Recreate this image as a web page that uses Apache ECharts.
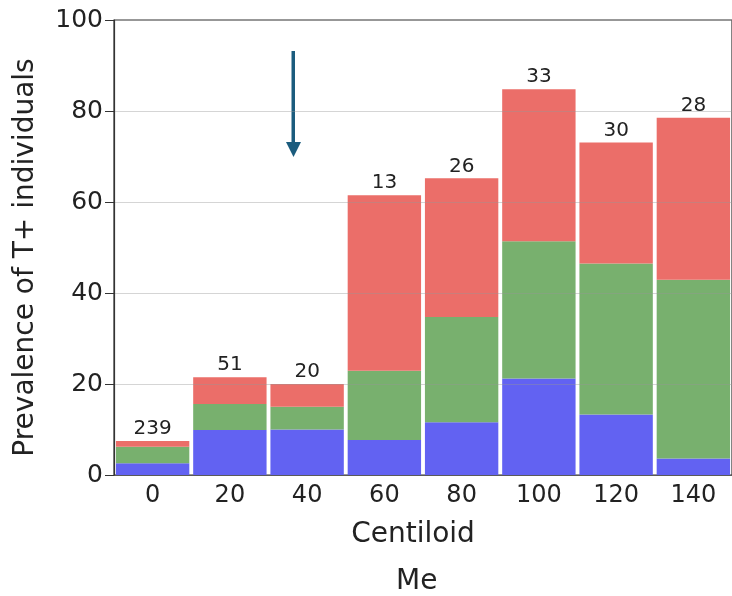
<!DOCTYPE html>
<html>
<head>
<meta charset="utf-8">
<script src="https://cdn.jsdelivr.net/npm/echarts@6/dist/echarts.min.js"></script>
<style>
  html, body { margin: 0; padding: 0; background: #fff; }
  #chart { width: 732px; height: 596px; }
</style>
</head>
<body>
<div id="chart"></div>
<script>
// centiloid bins
const categories = ['0', '20', '40', '60', '80', '100', '120', '140']
// stacked segment heights (%), bottom to top
const blueValues = [2.6, 9.9, 10.0, 7.7, 11.6, 21.2, 13.3, 3.6]
const greenValues = [3.6, 5.7, 5.0, 15.2, 23.1, 30.2, 33.2, 39.3]
const redValues = [1.3, 5.9, 5.0, 38.6, 30.5, 33.4, 26.6, 35.6]
// n per bin, printed above each bar
const counts = [239, 51, 20, 13, 26, 33, 30, 28]

const FONT = 'DejaVu Sans'
const chart = echarts.init(document.getElementById('chart'))

const option = {
  animation: false,
  backgroundColor: '#fff',
  textStyle: { fontFamily: FONT },
  title: {
    text: 'Me',
    left: 391,
    top: 563,
    textStyle: { fontFamily: FONT, fontSize: 28, fontWeight: 'normal', color: '#222' }
  },
  grid: {
    left: 114,
    right: -1,
    top: 20,
    bottom: 121,
    show: true,
    borderColor: '#333',
    borderWidth: 1.2,
    backgroundColor: 'transparent'
  },
  xAxis: {
    type: 'category',
    data: categories,
    name: 'Centiloid',
    nameLocation: 'middle',
    nameGap: 46,
    nameTextStyle: { fontFamily: FONT, fontSize: 28, color: '#222', padding: [0, 20, 0, 0] },
    axisLine: { lineStyle: { color: '#333', width: 1.2 } },
    axisTick: { alignWithLabel: true, length: 7, lineStyle: { color: '#333' } },
    axisLabel: { fontFamily: FONT, fontSize: 24, color: '#222', margin: 9 }
  },
  yAxis: {
    type: 'value',
    min: 0,
    max: 100,
    interval: 20,
    z: 5,
    name: 'Prevalence of T+ individuals',
    nameLocation: 'middle',
    nameGap: 74,
    nameTextStyle: { fontFamily: FONT, fontSize: 28, color: '#222', padding: [0, 20, 0, 0] },
    axisLine: { show: true, lineStyle: { color: '#333', width: 1.2 } },
    axisTick: { show: true, length: 9, lineStyle: { color: '#333' } },
    axisLabel: { fontFamily: FONT, fontSize: 25, color: '#222', margin: 11 },
    splitLine: { lineStyle: { color: 'rgba(150,150,150,0.4)', width: 1 } }
  },
  series: [
    {
      name: 'blue',
      type: 'bar',
      stack: 'total',
      data: blueValues,
      barCategoryGap: '5%',
      itemStyle: { color: '#6262F2' }
    },
    {
      name: 'green',
      type: 'bar',
      stack: 'total',
      data: greenValues,
      itemStyle: { color: '#78B06E' }
    },
    {
      name: 'red',
      type: 'bar',
      stack: 'total',
      data: redValues,
      itemStyle: { color: '#EB6E69' },
      label: {
        show: true,
        position: 'top',
        distance: 2,
        fontFamily: FONT,
        fontSize: 20,
        color: '#222',
        formatter: p => counts[p.dataIndex]
      }
    }
  ],
  graphic: [
    // annotation arrow
    {
      type: 'rect',
      shape: { x: 291.5, y: 51, width: 3.5, height: 93 },
      style: { fill: '#1B5C7E' }
    },
    {
      type: 'polygon',
      shape: { points: [[286, 142], [301, 142], [293.5, 157]] },
      style: { fill: '#1B5C7E' }
    }
  ]
}

chart.setOption(option)
</script>
</body>
</html>
